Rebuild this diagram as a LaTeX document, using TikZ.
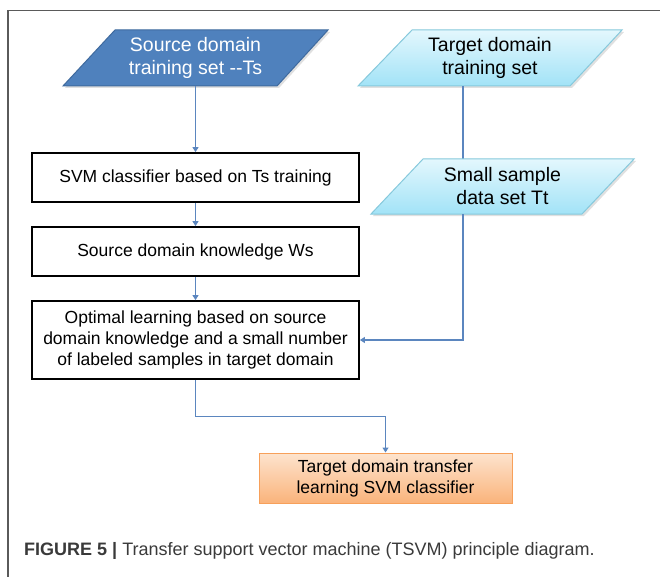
\documentclass[tikz,border=0pt]{standalone}
\usepackage{fontspec}
\setmainfont{Liberation Sans}
\usetikzlibrary{arrows.meta,calc}

\definecolor{linkblue}{HTML}{5B86BF}
\definecolor{srcfill}{HTML}{4F81BD}
\definecolor{srcedge}{HTML}{3F6A9E}
\definecolor{cyantop}{HTML}{E3F7FD}
\definecolor{cyanbot}{HTML}{A2E3F7}
\definecolor{cyanedge}{HTML}{86C9DC}
\definecolor{orangetop}{HTML}{FDE4CE}
\definecolor{orangebot}{HTML}{FAB37B}
\definecolor{orangeedge}{HTML}{F7A05A}
\definecolor{framegray}{HTML}{5A5A5A}
\definecolor{captext}{HTML}{3A3A3A}

\tikzset{
  link/.style={draw=linkblue, line width=1.1pt},
  linkarrow/.style={link, -{Triangle[length=5pt,width=6pt]}},
  stepbox/.style={draw=black, line width=1.8pt, fill=white, minimum width=327pt,
    align=center, inner sep=0pt, font=\fontsize{17.5}{21}\selectfont},
  paratext/.style={align=center, inner sep=0pt, minimum height=56pt,
    font=\fontsize{19.5}{23}\selectfont},
  srcpara/.style={fill=srcfill, draw=srcedge, line width=1pt},
  cyanpara/.style={top color=cyantop, bottom color=cyanbot, draw=cyanedge, line width=1pt},
  paraShadow/.style={fill=black, opacity=0.12},
  outbox/.style={top color=orangetop, bottom color=orangebot, draw=orangeedge,
    line width=1pt, minimum width=253pt, minimum height=50pt, align=center,
    inner sep=0pt, font=\fontsize{17.5}{21}\selectfont},
}

\begin{document}
\begin{tikzpicture}[x=1pt,y=-1pt]
\useasboundingbox (0,0) rectangle (660,577);
\fill[white] (0,0) rectangle (660,577);

% frame lines along the top and left
\draw[framegray, line width=1.5pt] (660,10.5) -- (8,10.5) -- (8,577);

% x position of the vertical target-side connector
\coordinate (tline) at (463,0);

% source domain parallelogram
\fill[paraShadow] (117,32) -- (330,32) -- (279,88) -- (65,88) -- cycle;
\path[srcpara] (115,30) -- (328,30) -- (277,86) -- (63,86) -- cycle;
\node[paratext, text=white] (src) at (195.5,58) {Source domain\\training set {-}{-}Ts};

% target domain parallelogram
\fill[paraShadow] (414,32) -- (624,32) -- (572,88) -- (360,88) -- cycle;
\path[cyanpara] (412,30) -- (622,30) -- (570,86) -- (358,86) -- cycle;
\node[paratext] (tgt) at (490,58) {Target domain\\training set};

% line from target set down to the small sample set
\coordinate (sstop) at (463,159);
\draw[link] (tgt.south -| tline) -- (sstop);

% small sample parallelogram
\fill[paraShadow] (425,161) -- (636,161) -- (584,216) -- (373,216) -- cycle;
\path[cyanpara] (423,159) -- (634,159) -- (582,214) -- (371,214) -- cycle;
\node[paratext, minimum height=55pt] (ss) at (502.5,186.5) {Small sample\\data set Tt};

% process boxes
\node[stepbox, minimum height=49pt] (svm) at (195.5,177.5) {SVM classifier based on Ts training};
\node[stepbox, minimum height=49pt] (ws) at (195.5,251.5) {Source domain knowledge Ws};
\node[stepbox, minimum height=78pt] (opt) at (195.5,340)
  {Optimal learning based on source\\domain knowledge and a small number\\of labeled samples in target domain};

% output box
\node[outbox] (out) at (385.5,478) {Target domain transfer\\learning SVM classifier};

% connectors
\draw[linkarrow] (src.south) -- (svm.north);
\draw[linkarrow] (svm.south) -- (ws.north);
\draw[linkarrow] (ws.south) -- (opt.north);
\draw[linkarrow] (ss.south -| tline) |- (opt.east);
\draw[linkarrow] (opt.south) |- ($(opt.south)!0.5!(out.north)$) -| (out.north);

% caption
\node[anchor=base west, inner sep=0pt, text=captext, font=\fontsize{18}{21}\selectfont]
  (cap) at (24,555) {\textbf{FIGURE 5 |} Transfer support vector machine (TSVM) principle diagram.};
\end{tikzpicture}
\end{document}
